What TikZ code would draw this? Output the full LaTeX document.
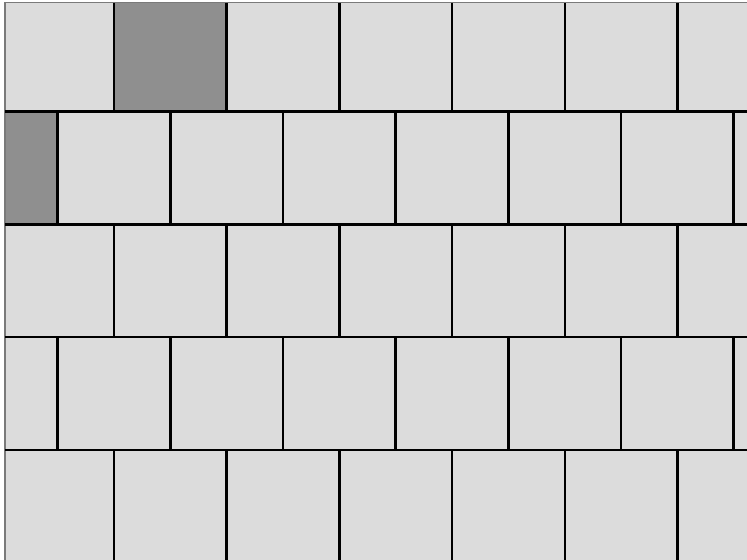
\documentclass[tikz,border=0pt]{standalone}
\usepackage{tikz}
\definecolor{TileLight}{HTML}{DCDCDC}
\definecolor{TileDark}{HTML}{8F8F8F}
\definecolor{EdgeGray}{HTML}{7A7A7A}

\begin{document}
\begin{tikzpicture}[
  x=0.02cm, y=-0.02cm,
  joint/.style={draw=black, line width=2.6*0.02cm},
  rim/.style={draw=EdgeGray, line width=1.4*0.02cm},
  darktile/.style={fill=TileDark}
]
\useasboundingbox (0,0) rectangle (747,560);
% floor area
\fill[TileLight] (5,3) rectangle (747,560);
% two darker tiles
\fill[darktile] (114,3) rectangle (226.7,111.5);
\fill[darktile] (5,111.5) rectangle (57.5,224.3);
% outer rim, top and left
\draw[rim] (747,2.5) -- (5,2.5) -- (5,560);
% horizontal joints
\foreach \y in {111.5,224.3,337,450}
  \draw[joint] (5,\y) -- (747,\y);
% vertical joints, rows 1, 3 and 5
\foreach \ya/\yb in {3/111.5,224.3/337,450/560}
  \foreach \k in {0,...,5}
    \draw[joint] (114+112.7*\k,\ya) -- (114+112.7*\k,\yb);
% vertical joints, rows 2 and 4 (offset by half a tile)
\foreach \ya/\yb in {111.5/224.3,337/450}
  \foreach \k in {0,...,6}
    \draw[joint] (57.5+112.7*\k,\ya) -- (57.5+112.7*\k,\yb);
\end{tikzpicture}
\end{document}
